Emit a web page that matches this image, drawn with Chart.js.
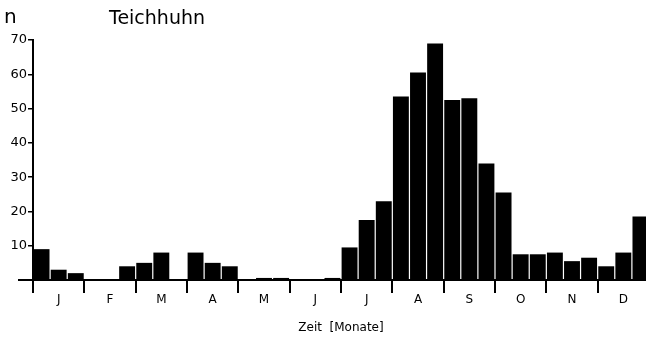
<!DOCTYPE html>
<html>
<head>
<meta charset="utf-8">
<script src="https://cdn.jsdelivr.net/npm/chart.js@4/dist/chart.umd.min.js"></script>
<style>
  html, body { margin: 0; padding: 0; background: #fff; overflow: hidden; }
  #wrap { position: relative; width: 646px; height: 339px; overflow: hidden; }
  #c { position: absolute; left: 0; top: 0; }
  .lbl { position: absolute; font-family: 'DejaVu Sans', sans-serif; color: #000; line-height: 1; }
</style>
</head>
<body>
<div id="wrap">
  <canvas id="c" width="652" height="339"></canvas>
  <div class="lbl" style="left:4px;top:6px;font-size:20px;">n</div>
  <div class="lbl" style="left:109px;top:8px;font-size:19px;">Teichhuhn</div>
</div>
<script>
(function () {
    'use strict';

    // Monatsbuchstaben und Drittel (Dekaden) pro Monat
    const MONTHS = ['J', 'F', 'M', 'A', 'M', 'J', 'J', 'A', 'S', 'O', 'N', 'D'];
    const THIRDS = ['1', '2', '3'];

    // Anzahl n je Monatsdrittel
    const COUNTS = [
        9, 3, 2,        // J
        0.3, 0.3, 4,    // F
        5, 8, 0,        // M
        8, 5, 4,        // A
        0, 0.6, 0.6,    // M
        0, 0, 0.6,      // J
        9.5, 17.5, 23,  // J
        53.5, 60.5, 69, // A
        52.5, 53, 34,   // S
        25.5, 7.5, 7.5, // O
        8, 5.5, 6.5,    // N
        4, 8, 18.5      // D
    ];

    const Y_TICKS = [0, 10, 20, 30, 40, 50, 60, 70];

    const labels = [];
    MONTHS.forEach((m, i) => THIRDS.forEach(t => labels.push(m + t)));

    const FONT = "'DejaVu Sans', sans-serif";

    // Grundlinie etwas nach links verlaengern wie im Original
    const baseLine = {
        id: 'baseLine',
        afterDraw(chart) {
            const ctx = chart.ctx;
            const y = chart.scales.y.getPixelForValue(0);
            const x = chart.chartArea.left;
            ctx.save();
            ctx.strokeStyle = '#000';
            ctx.lineWidth = 2;
            ctx.beginPath();
            ctx.moveTo(x - 15, y);
            ctx.lineTo(x, y);
            ctx.stroke();
            ctx.restore();
        }
    };

    new Chart(document.getElementById('c').getContext('2d'), {
        type: 'bar',
        data: {
            labels: labels,
            datasets: [{
                data: COUNTS,
                backgroundColor: '#000',
                borderWidth: 0,
                barPercentage: 0.93,
                categoryPercentage: 1.0,
            }],
        },
        options: {
            responsive: false,
            animation: false,
            layout: { padding: { top: 40, right: 3, left: 0, bottom: 0 } },
            plugins: {
                legend: { display: false },
                tooltip: { enabled: false },
            },
            scales: {
                x: {
                    offset: true,
                    afterFit: s => { s.height = 59; },
                    grid: {
                        offset: true,
                        drawOnChartArea: false,
                        tickLength: 13,
                        lineWidth: 2,
                        color: ctx => (ctx.index % 3 === 0 ? '#000' : 'rgba(0,0,0,0)'),
                    },
                    border: { display: true, color: '#000', width: 2 },
                    ticks: {
                        autoSkip: false,
                        maxRotation: 0,
                        padding: 0,
                        color: '#000',
                        font: { family: FONT, size: 12 },
                        callback: (v, i) => (i % 3 === 1 ? MONTHS[Math.floor(i / 3)] : ''),
                    },
                    title: {
                        display: true,
                        text: 'Zeit  [Monate]',
                        color: '#000',
                        font: { family: FONT, size: 12 },
                        padding: { top: 9, bottom: 4 },
                    },
                },
                y: {
                    min: 0,
                    max: 70,
                    afterBuildTicks: s => { s.ticks = Y_TICKS.map(v => ({ value: v })); },
                    afterFit: s => { s.width = 33; },
                    grid: {
                        drawOnChartArea: false,
                        tickLength: 5,
                        lineWidth: 1.5,
                        color: '#000',
                    },
                    border: { display: true, color: '#000', width: 2 },
                    ticks: {
                        padding: 1,
                        color: '#000',
                        font: { family: FONT, size: 13 },
                        callback: v => (v === 0 ? '' : v),
                    },
                },
            },
        },
        plugins: [baseLine],
    });
})();
</script>
</body>
</html>
